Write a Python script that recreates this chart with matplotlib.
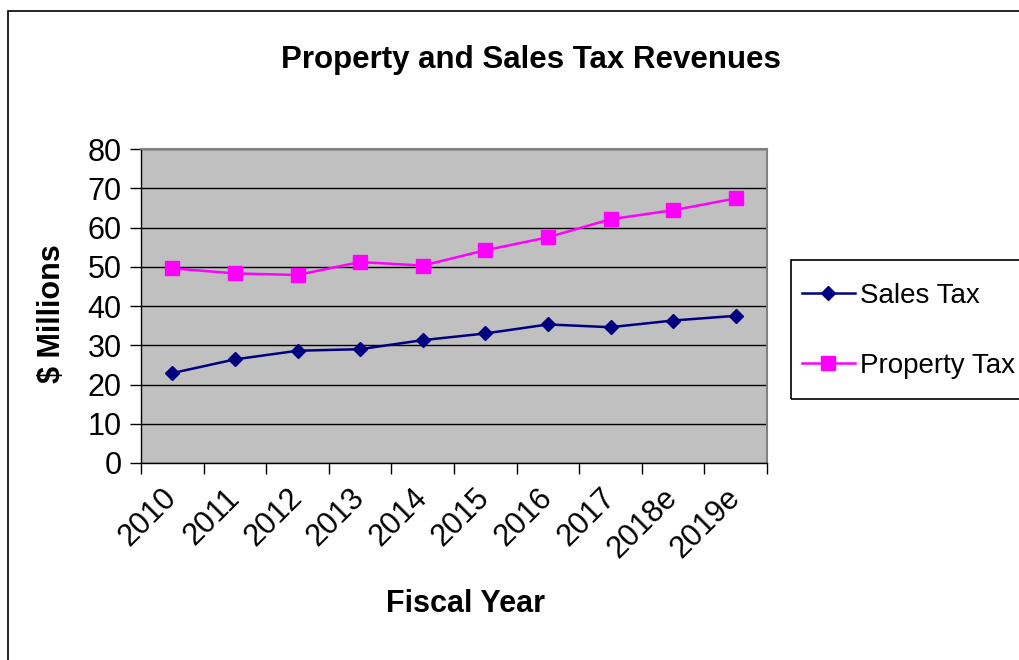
import matplotlib.pyplot as plt
from matplotlib.patches import Rectangle

plt.rcParams['font.family'] = ['Liberation Sans', 'DejaVu Sans']

years = ['2010', '2011', '2012', '2013', '2014', '2015', '2016', '2017', '2018e', '2019e']
sales_tax = [22.9, 26.4, 28.6, 29.0, 31.3, 33.0, 35.3, 34.6, 36.3, 37.5]
property_tax = [49.6, 48.3, 47.9, 51.2, 50.3, 54.2, 57.5, 62.1, 64.4, 67.4]

fig = plt.figure(figsize=(10.2, 6.6), dpi=100)
fig.patch.set_facecolor('white')

# chart frame
fig.patches.append(Rectangle((8 / 1020, -0.1), 1.2, 1 - 11 / 660 + 0.1,
                             transform=fig.transFigure, fill=False,
                             edgecolor='black', linewidth=1.2))

ax = fig.add_axes([141 / 1020, 1 - 463 / 660, 626 / 1020, 314 / 660])
ax.set_facecolor('#C0C0C0')

x = list(range(len(years)))
ax.plot(x, sales_tax, color='#000080', marker='D', markersize=7.5,
        linewidth=1.8, label='Sales Tax')
ax.plot(x, property_tax, color='#FF00FF', marker='s', markersize=10.5,
        linewidth=1.8, label='Property Tax')

ax.set_xlim(-0.5, len(years) - 0.5)
ax.set_ylim(0, 80)
ax.set_yticks(range(0, 81, 10))
ax.yaxis.grid(True, color='black', linewidth=1)
ax.set_axisbelow(True)

# ticks sit between categories, labels on the category centres
ax.set_xticks([i - 0.5 for i in range(len(years) + 1)])
ax.set_xticklabels([])
ax.set_xticks(x, minor=True)
ax.set_xticklabels(years, minor=True, rotation=45, ha='right', va='center',
                   rotation_mode='anchor', fontsize=22)
ax.tick_params(axis='x', which='minor', length=0, pad=22)
ax.tick_params(axis='x', which='major', direction='out', length=8, width=1)
ax.tick_params(axis='y', direction='out', length=8, width=1, labelsize=22, pad=6)

for side in ('top', 'right'):
    ax.spines[side].set_color('#808080')
    ax.spines[side].set_linewidth(1.5)
for side in ('left', 'bottom'):
    ax.spines[side].set_color('black')
    ax.spines[side].set_linewidth(1)

fig.text(531 / 1020, 1 - 60 / 660, 'Property and Sales Tax Revenues',
         ha='center', va='center', fontsize=22.5, fontweight='bold')
fig.text(52 / 1020, 1 - 314 / 660, '$ Millions', ha='center', va='center',
         rotation=90, fontsize=22, fontweight='bold')
fig.text(466 / 1020, 1 - 604 / 660, 'Fiscal Year', ha='center', va='center',
         fontsize=22, fontweight='bold')

# legend box runs past the right edge of the chart area
fig.patches.append(Rectangle((791 / 1020, 1 - 399 / 660), 0.3, 139 / 660,
                             transform=fig.transFigure, fill=False,
                             edgecolor='black', linewidth=1.2))
fig.legend(loc='center left', bbox_to_anchor=(802 / 1020, 1 - 331 / 660),
           fontsize=20, frameon=False, handlelength=1.9, handletextpad=0.2,
           labelspacing=1.6, borderpad=0, borderaxespad=0)

fig.savefig('out.png', dpi=100)
